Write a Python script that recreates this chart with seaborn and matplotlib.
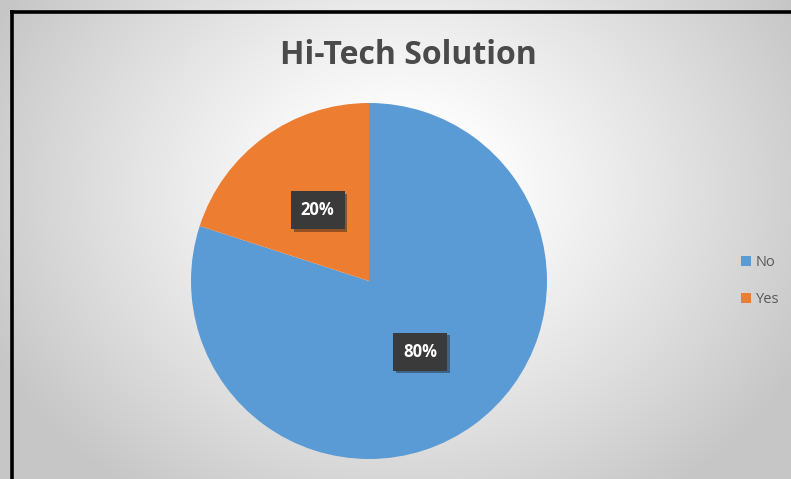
import numpy as np
import matplotlib
matplotlib.use("Agg")
import matplotlib.pyplot as plt
import matplotlib.patheffects as pe
from matplotlib.lines import Line2D
from matplotlib.patches import Rectangle
import seaborn as sns

# Survey answers
labels = ["No", "Yes"]
shares = [80, 20]
colors = ["#5B9BD5", "#ED7D31"]
title = "Hi-Tech Solution"

sns.set_theme(style="white")
plt.rcParams["font.family"] = ["Open Sans", "DejaVu Sans"]

W, H = 791, 479
fig = plt.figure(figsize=(W / 100, H / 100), dpi=100)

# Radial background shading of the chart area
bg = fig.add_axes([0, 0, 1, 1])
yy, xx = np.mgrid[0:H, 0:W]
d = np.sqrt(((xx - 400) / 1.15) ** 2 + ((yy - 190) / 0.95) ** 2)
t = np.clip((d - 60) / 330, 0, 1) ** 1.1
shade = 1.0 - t * (1.0 - 0.78)
img = np.dstack([shade, shade, shade])
bg.imshow(img, extent=[0, W, H, 0], aspect="auto", interpolation="bilinear")
bg.set_xlim(0, W)
bg.set_ylim(H, 0)
bg.axis("off")

# Frame on the left and top edges
fig.add_artist(Line2D([11.5 / W, 11.5 / W], [0, 1 - 11.5 / H], color="black", lw=2.6,
                      transform=fig.transFigure, solid_capstyle="projecting"))
fig.add_artist(Line2D([11.5 / W, 1], [1 - 11.5 / H, 1 - 11.5 / H], color="black", lw=2.6,
                      transform=fig.transFigure, solid_capstyle="projecting"))

# Pie
cx, cy, r = 369, 281, 178
ax = fig.add_axes([(cx - r) / W, (H - cy - r) / H, 2 * r / W, 2 * r / H])
wedges, texts, autotexts = ax.pie(
    shares, colors=colors, startangle=90, counterclock=False,
    autopct="%d%%", pctdistance=0.49, radius=1.0,
    wedgeprops=dict(linewidth=0),
    textprops=dict(color="white", fontsize=12, fontweight="bold"),
)
for at in autotexts:
    at.set_bbox(dict(boxstyle="square,pad=0.6", facecolor="#3a3a3a", edgecolor="none",
                     path_effects=[pe.SimplePatchShadow(offset=(2, -2), alpha=0.4),
                                   pe.Normal()]))
ax.set_xlim(-1, 1)
ax.set_ylim(-1, 1)
ax.set_aspect("equal")
ax.axis("off")

fig.text(408 / W, 1 - 56 / H, title, ha="center", va="center",
         fontsize=23, fontweight="bold", color="#4a4a4a")

# Legend
handles = [Rectangle((0, 0), 1, 1, facecolor=c, edgecolor="none") for c in colors]
fig.legend(handles, labels, loc="center left", bbox_to_anchor=(728 / W, 1 - 281 / H),
           frameon=False, fontsize=10.5, handlelength=0.65, handleheight=0.65,
           handletextpad=0.35, labelspacing=1.5, labelcolor="#595959")

fig.savefig("out.png", dpi=100)
